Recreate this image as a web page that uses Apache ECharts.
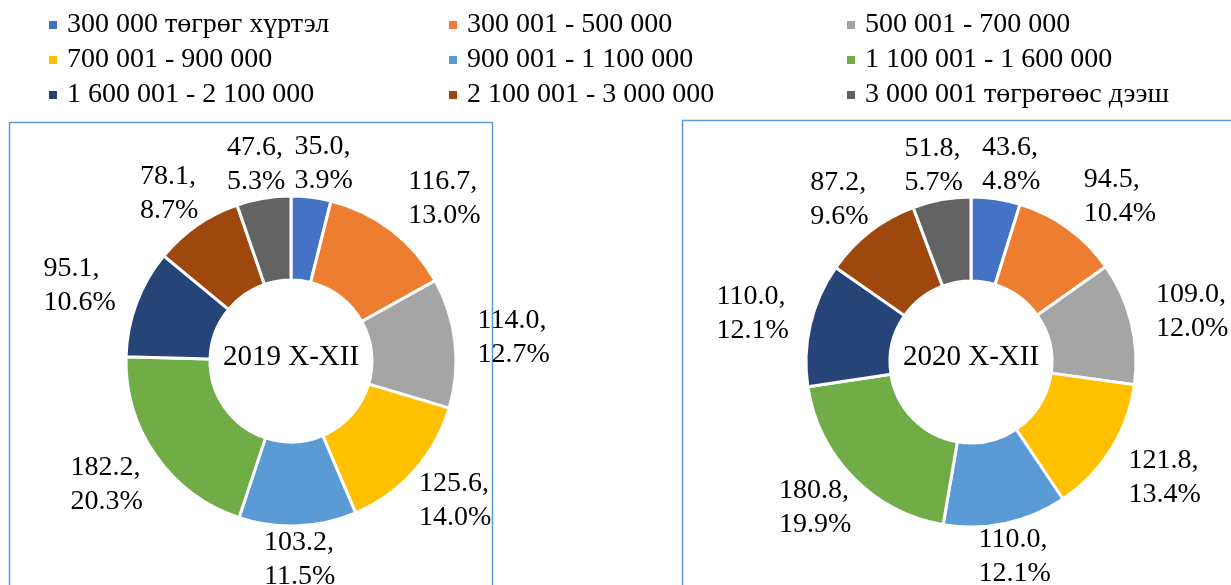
<!DOCTYPE html>
<html>
<head>
    <meta charset="UTF-8">
    <title>Donut 2019 / 2020</title>
    <script src="https://cdn.jsdelivr.net/npm/echarts@6/dist/echarts.min.js"></script>
    <style>
        html, body { margin: 0; padding: 0; background: #fff; }
        #main { width: 1231px; height: 585px; }
    </style>
</head>
<body>
    <div id="main"></div>
    <script>
    var categories = ['300 000 төгрөг хүртэл', '300 001 - 500 000', '500 001 - 700 000',
        '700 001 - 900 000', '900 001 - 1 100 000', '1 100 001 - 1 600 000',
        '1 600 001 - 2 100 000', '2 100 001 - 3 000 000', '3 000 001 төгрөгөөс дээш'];
    var values2019 = [35.0, 116.7, 114.0, 125.6, 103.2, 182.2, 95.1, 78.1, 47.6];
    var values2020 = [43.6, 94.5, 109.0, 121.8, 110.0, 180.8, 110.0, 87.2, 51.8];
    var periods = ['2019 X-XII', '2020 X-XII'];
    var colors = ['#4472C4', '#ED7D31', '#A5A5A5', '#FFC000', '#5B9BD5', '#70AD47', '#264478', '#9E480E', '#636363'];

    var font = 'Liberation Serif';
    var centers = [[291, 361], [971, 362]];
    var outerR = 165;
    var innerR = 81;
    var labelGap = 12;

    function makeData(vals) {
        return vals.map(function (v, i) { return { name: categories[i], value: v }; });
    }

    function sumOf(vals) {
        return vals.reduce(function (a, b) { return a + b; }, 0);
    }

    // excel-style: label block sits on the slice direction, just clear of the ring
    function placeLabel(params) {
        var pts = params.labelLinePoints;
        if (!pts) return {};
        var c = centers[params.seriesIndex];
        var dx = pts[0][0] - c[0], dy = pts[0][1] - c[1];
        var len = Math.sqrt(dx * dx + dy * dy);
        dx /= len; dy /= len;
        var w = params.labelRect.width, h = params.labelRect.height;
        var hh = h / 2 - 12; // glyphs are shorter than the line boxes
        var ex = Math.abs(dx) > 1e-6 ? (w / 2) / Math.abs(dx) : Infinity;
        var ey = Math.abs(dy) > 1e-6 ? hh / Math.abs(dy) : Infinity;
        var r = outerR + labelGap + Math.min(ex, ey);
        // upper-right labels sit a little further to the side
        var side = (dx > 0 && dy < 0) ? 60 * dx * dy * dy : 0;
        return {
            x: c[0] + dx * r + dx * 10 + side - w / 2,
            y: c[1] + dy * r,
            align: 'left',
            verticalAlign: 'middle'
        };
    }

    function makeSeries(vals, idx) {
        var total = sumOf(vals);
        return {
            type: 'pie',
            center: centers[idx],
            radius: [innerR, outerR],
            startAngle: 90,
            avoidLabelOverlap: false,
            itemStyle: { borderColor: '#fff', borderWidth: 3 },
            label: {
                show: true,
                position: 'outside',
                fontFamily: font,
                fontSize: 28,
                color: '#000',
                lineHeight: 34,
                formatter: function (p) {
                    return p.value.toFixed(1) + ',\n' + (p.value / total * 100).toFixed(1) + '%';
                }
            },
            labelLine: { show: true, length: 10, length2: 0, lineStyle: { opacity: 0 } },
            labelLayout: placeLabel,
            emphasis: { disabled: true },
            data: makeData(vals)
        };
    }

    function legendCol(idx, left) {
        return {
            orient: 'vertical',
            left: left,
            top: 6,
            padding: [5, 0, 5, 0],
            itemWidth: 10,
            itemHeight: 10,
            itemGap: 7,
            icon: 'rect',
            selectedMode: false,
            textStyle: { fontFamily: font, fontSize: 28, color: '#000', padding: [0, 0, 0, 4] },
            data: idx.map(function (i) { return categories[i]; })
        };
    }

    var chart = echarts.init(document.getElementById('main'));
    chart.setOption({
        color: colors,
        animation: false,
        legend: [
            legendCol([0, 3, 6], 47),
            legendCol([1, 4, 7], 447),
            legendCol([2, 5, 8], 845)
        ],
        title: [
            { text: periods[0], left: centers[0][0], top: 357, textAlign: 'center', textVerticalAlign: 'middle', padding: 0,
              textStyle: { fontFamily: font, fontSize: 29, fontWeight: 'normal', color: '#000' } },
            { text: periods[1], left: centers[1][0], top: 357, textAlign: 'center', textVerticalAlign: 'middle', padding: 0,
              textStyle: { fontFamily: font, fontSize: 29, fontWeight: 'normal', color: '#000' } }
        ],
        graphic: [
            { type: 'rect', shape: { x: 9.5, y: 122.5, width: 483, height: 480 },
              style: { fill: 'none', stroke: '#5B9BD5', lineWidth: 1.5 }, z: -1 },
            { type: 'rect', shape: { x: 682.5, y: 120.5, width: 600, height: 480 },
              style: { fill: 'none', stroke: '#5B9BD5', lineWidth: 1.5 }, z: -1 }
        ],
        series: [
            makeSeries(values2019, 0),
            makeSeries(values2020, 1)
        ]
    });
    </script>
</body>
</html>
